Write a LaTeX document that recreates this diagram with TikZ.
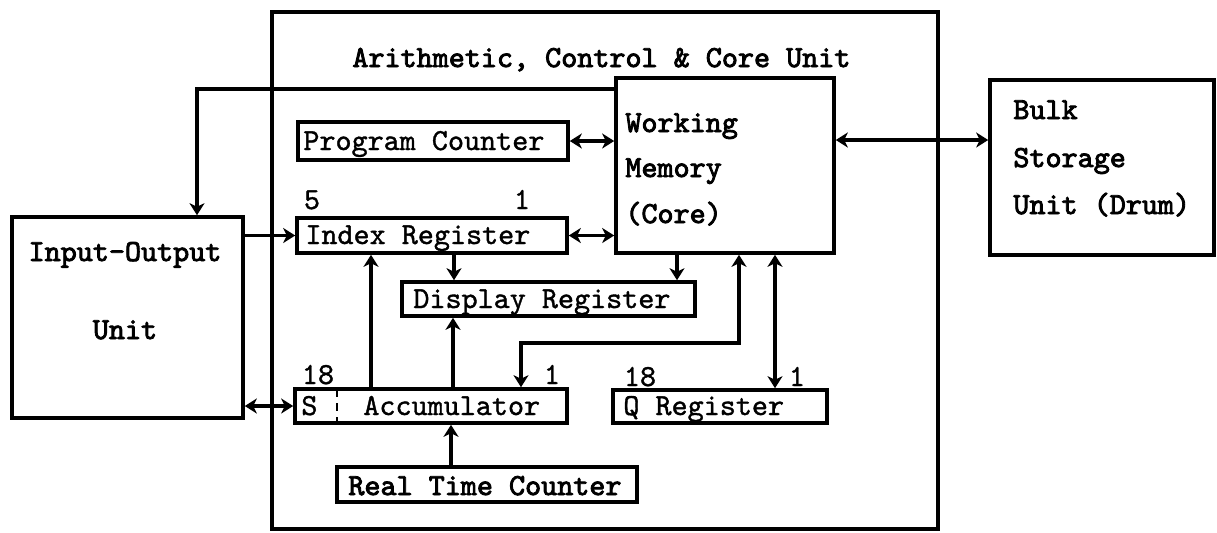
\documentclass[tikz,border=0pt]{standalone}
\usepackage{fontspec}
\newfontfamily\twr{lmmono10-regular.otf}[FakeBold=1.2]
\newfontfamily\twb{lmmono10-regular.otf}[FakeBold=2.8]
\usetikzlibrary{arrows.meta,fit}

\tikzset{
  box/.style={draw, line width=1.8pt, inner sep=0pt},
  txt/.style={inner sep=0pt, anchor=west, text height=9pt, text depth=0pt,
              font=\twr\fontsize{15.3}{18}\selectfont},
  btxt/.style={txt, font=\twb\fontsize{15.3}{18}\selectfont},
  num/.style={txt, anchor=center},
  conn/.style={line width=1.6pt},
  tip/.tip={Stealth[length=6pt,width=7.5pt,inset=1.8pt]},
  arr/.style={conn, -tip},
  darr/.style={conn, tip-tip},
}

\begin{document}
\begin{tikzpicture}[x=0.5pt,y=-0.5pt]
\fill[white] (0,0) rectangle (1217,532);
\useasboundingbox (0,0) rectangle (1217,532);

% x positions of vertical connectors
\coordinate (x197) at (197,0);
\coordinate (x371) at (371,0);
\coordinate (x453) at (453,0);
\coordinate (x454) at (454,0);
\coordinate (x451) at (451,0);
\coordinate (x521) at (521,0);
\coordinate (x677) at (677,0);
\coordinate (x775) at (775,0);
\coordinate (xS) at (337,0);
\coordinate (ytop) at (0,89);
\coordinate (ybulk) at (0,140);
\coordinate (elb) at (739,343);

% outer unit
\node[box, fit={(272,12)(938,529)}] (acu) {};
\node[btxt] (title) at (352,58) {Arithmetic, Control \& Core Unit};

% input-output unit
\node[box, fit={(12,217)(243,418)}] (io) {};
\node[btxt, anchor=center] (iot1) at (125,252) {Input-Output};
\node[btxt, anchor=center] (iot2) at (125,330) {Unit};

% working memory
\node[box, fit={(616,78)(834,253)}] (wm) {};
\node[btxt] (wmt1) at (625,123) {Working};
\node[btxt] (wmt2) at (625,168) {Memory};
\node[btxt] (wmt3) at (625,214) {(Core)};

% bulk storage
\node[box, fit={(990,80)(1214,255)}] (bulk) {};
\node[btxt] (bt1) at (1013,110) {Bulk};
\node[btxt] (bt2) at (1013,158) {Storage};
\node[btxt] (bt3) at (1013,205) {Unit (Drum)};

% program counter
\node[box, fit={(298,122)(568,160)}] (pc) {};
\node[txt] (pct) at (303,141) {Program Counter};

% index register
\node[box, fit={(297,218)(567,253)}] (idx) {};
\node[txt] (idxt) at (305,235) {Index Register};
\node[num] (idx5) at (312,200) {5};
\node[num] (idx1) at (522,200) {1};

% display register
\node[box, fit={(402,282)(695,316)}] (disp) {};
\node[txt] (dispt) at (413,299) {Display Register};

% accumulator
\node[box, fit={(295,389)(567,423)}] (acc) {};
\node[txt] (accs) at (301,406) {S};
\node[txt] (acct) at (363,406) {Accumulator};
\node[num] (acc18) at (318,375) {18};
\node[num] (acc1) at (552,375) {1};
\draw[line width=1.4pt, dash pattern=on 4pt off 3pt, dash phase=-1pt] (acc.north -| xS) -- (acc.south -| xS);

% Q register
\node[box, fit={(613,390)(827,423)}] (q) {};
\node[txt] (qt) at (623,406) {Q Register};
\node[num] (q18) at (640,377) {18};
\node[num] (q1) at (797,377) {1};

% real time counter
\node[box, fit={(337,467)(637,502)}] (rtc) {};
\node[btxt] (rtct) at (348,486) {Real Time Counter};

% connectors
\draw[arr] (ytop -| wm.west) -- (ytop -| x197) -- (io.north -| x197);
\draw[arr] (io.east |- idx.west) -- (idx.west);
\draw[darr] (io.east |- acc.west) -- (acc.west);
\draw[darr] (pc.east) -- (pc.east -| wm.west);
\draw[darr] (idx.east) -- (idx.east -| wm.west);
\draw[darr] (ybulk -| wm.east) -- (ybulk -| bulk.west);
\draw[arr] (idx.south -| x454) -- (disp.north -| x454);
\draw[arr] (wm.south -| x677) -- (disp.north -| x677);
\draw[arr] (acc.north -| x371) -- (idx.south -| x371);
\draw[arr] (acc.north -| x453) -- (disp.south -| x453);
\draw[darr] (elb |- wm.south) -- (elb) -- (elb -| x521) -- (acc.north -| x521);
\draw[darr] (wm.south -| x775) -- (q.north -| x775);
\draw[arr] (rtc.north -| x451) -- (acc.south -| x451);
\end{tikzpicture}
\end{document}
